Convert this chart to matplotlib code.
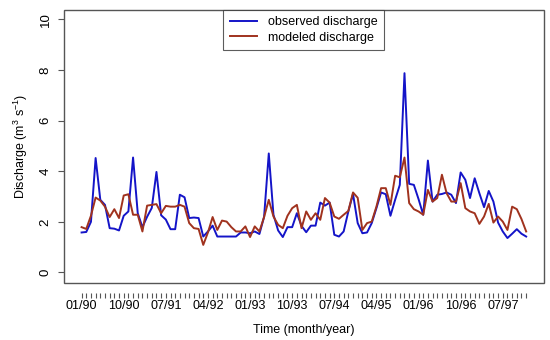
"""
Observed vs modeled monthly discharge, 01/90 - 12/97
"""

import matplotlib
matplotlib.use("Agg")
import matplotlib.pyplot as plt
from matplotlib.patches import Rectangle

plt.rcParams['font.family'] = ['Liberation Sans', 'DejaVu Sans']
plt.rcParams['mathtext.default'] = 'regular'

# monthly values, Jan 1990 .. Dec 1997 (96 months)
observed = [
    1.58, 1.60, 2.00, 4.52, 2.87, 2.67, 1.75, 1.73, 1.66, 2.24,
    2.41, 4.54, 2.34, 1.79, 2.20, 2.55, 3.97, 2.26, 2.09, 1.71,
    1.71, 3.07, 2.97, 2.15, 2.17, 2.15, 1.42, 1.62, 1.85, 1.42,
    1.42, 1.42, 1.42, 1.42, 1.58, 1.58, 1.55, 1.62, 1.52, 2.20,
    4.70, 2.28, 1.66, 1.40, 1.79, 1.79, 2.34, 1.84, 1.59, 1.85,
    1.85, 2.76, 2.64, 2.76, 1.49, 1.42, 1.62, 2.41, 3.10, 1.95,
    1.55, 1.58, 1.95, 2.54, 3.16, 3.09, 2.24, 2.87, 3.46, 7.87,
    3.50, 3.46, 2.90, 2.28, 4.42, 2.80, 3.07, 3.10, 3.16, 3.07,
    2.74, 3.95, 3.66, 2.94, 3.72, 3.13, 2.58, 3.22, 2.80, 1.97,
    1.62, 1.36, 1.53, 1.71, 1.53, 1.42,
]
modeled = [
    1.79, 1.72, 2.24, 2.96, 2.84, 2.60, 2.19, 2.50, 2.15, 3.04,
    3.09, 2.28, 2.28, 1.62, 2.64, 2.67, 2.70, 2.34, 2.63, 2.60,
    2.60, 2.67, 2.60, 1.95, 1.75, 1.72, 1.09, 1.58, 2.19, 1.68,
    2.05, 2.01, 1.79, 1.62, 1.62, 1.82, 1.40, 1.82, 1.62, 2.19,
    2.87, 2.21, 1.88, 1.75, 2.24, 2.54, 2.67, 1.75, 2.41, 2.08,
    2.34, 2.08, 2.94, 2.76, 2.21, 2.12, 2.28, 2.43, 3.16, 2.95,
    1.68, 1.95, 2.01, 2.60, 3.33, 3.33, 2.67, 3.82, 3.76, 4.54,
    2.74, 2.50, 2.41, 2.28, 3.26, 2.80, 2.94, 3.86, 3.13, 2.80,
    2.80, 3.53, 2.54, 2.41, 2.34, 1.92, 2.21, 2.71, 1.97, 2.21,
    2.01, 1.68, 2.60, 2.50, 2.11, 1.62,
]
tick_labels = ['01/90', '10/90', '07/91', '04/92', '01/93', '10/93',
               '07/94', '04/95', '01/96', '10/96', '07/97']

months = list(range(len(observed)))

fig = plt.figure(figsize=(5.5, 3.4), dpi=100)
ax = fig.add_axes([0.116, 0.168, 0.873, 0.803])

ax.plot(months, observed, color='#1414c8', lw=1.4, label='observed discharge')
ax.plot(months, modeled, color='#a0321e', lw=1.4, label='modeled discharge')

ax.set_xlim(-3.8, 98.8)
ax.set_ylim(-0.41, 10.37)

# R-style box plus detached month ticks
for s in ax.spines.values():
    s.set_visible(False)
ax.add_patch(Rectangle((0, 0), 1, 1, transform=ax.transAxes, fill=False,
                       edgecolor='#555555', lw=1.0, clip_on=False))
ax.spines['bottom'].set_position(('outward', 7.2))

labels = [''] * len(months)
for k, lab in enumerate(tick_labels):
    labels[k * 9] = lab
ax.set_xticks(months)
ax.set_xticklabels(labels, fontsize=9)
ax.tick_params(axis='x', direction='out', length=3.6, width=0.8,
               color='#555555', pad=1.5)

ax.set_yticks([0, 2, 4, 6, 8, 10])
ax.set_yticklabels(['0', '2', '4', '6', '8', '10'], rotation=90,
                   va='center', fontsize=9.5)
ax.tick_params(axis='y', direction='out', length=4.3, width=0.8,
               color='#555555', pad=4.5)

ax.set_xlabel('Time (month/year)', fontsize=9, labelpad=9)
ax.set_ylabel('Discharge (m$^{3}$ s$^{-1}$)', fontsize=9, labelpad=7)

leg = ax.legend(loc='upper center', bbox_to_anchor=(0.5, 1.0),
                borderaxespad=0, fancybox=False, fontsize=9,
                handlelength=2.2, handletextpad=0.9, labelspacing=0.3,
                borderpad=0.5)
leg.get_frame().set_edgecolor('#333333')
leg.get_frame().set_linewidth(0.8)

fig.savefig('out.png', dpi=100)
